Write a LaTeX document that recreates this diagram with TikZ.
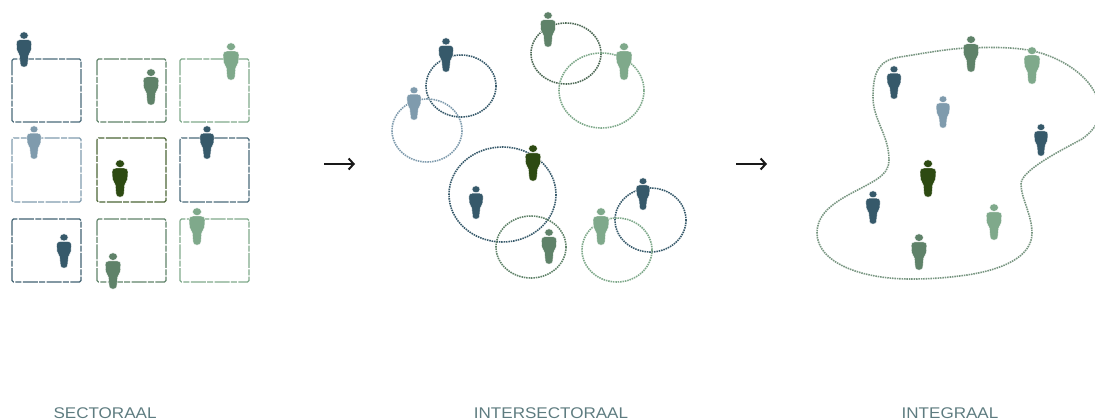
\documentclass[tikz,border=0pt]{standalone}
\usepackage{fontspec}
\setmainfont{Liberation Sans}
\usetikzlibrary{arrows.meta}
\definecolor{pblue}{HTML}{36596A}
\definecolor{pgreen}{HTML}{5F8269}
\definecolor{plight}{HTML}{7FA98B}
\definecolor{pgrey}{HTML}{7F9BAD}
\definecolor{pdark}{HTML}{2D4A12}
\definecolor{capcol}{HTML}{5E7C80}
\tikzset{
  person/.pic={
    \path[pic actions] (0,3.6) ellipse [x radius=4.4,y radius=3.8];
    \path[pic actions] (-4,7.8) -- (4,7.8) .. controls (7,7.8) and (7.8,9.5) .. (7.8,11.5)
      -- (7.4,18.5) .. controls (7.2,21.5) and (4.9,21.5) .. (4.6,24.5) -- (3.8,33.5)
      .. controls (3.7,37) and (-3.7,37) .. (-3.8,33.5) -- (-4.6,24.5)
      .. controls (-4.9,21.5) and (-7.2,21.5) .. (-7.4,18.5) -- (-7.8,11.5)
      .. controls (-7.8,9.5) and (-7,7.8) .. (-4,7.8) -- cycle;
  },
  frame/.style={draw=#1,line width=1.4pt,rounded corners=1.5pt,
    dash pattern=on 15pt off 1.4pt on 6pt off 1.4pt},
  ring/.style={draw=#1,line width=1.6pt,dash pattern=on 1.5pt off 0.9pt},
  caption/.style={text=capcol,font=\fontsize{15.5}{16}\selectfont,anchor=base,xscale=1.1,inner sep=0pt},
  go/.style={-{Straight Barb[length=5pt,width=11pt,line width=2pt]},line width=1.1pt,black!90},
}
\newcommand{\folk}[4]{%
  \pgfmathsetmacro{\folkscale}{(#3-#2)/36}%
  \pic[fill=#4,draw=white,line width=0.4pt,scale=\folkscale] at (#1,#2) {person};}
\begin{document}
\begin{tikzpicture}[x=1pt,y=-1pt]
\useasboundingbox (0,0) rectangle (1095,420);
\clip (0,0) rectangle (1095,420);
% sectoral frames
\draw[frame=pblue!90] (12,59) rectangle (81,122);
\draw[frame=pgreen] (97,59) rectangle (166,122);
\draw[frame=plight] (180,59) rectangle (249,122);
\draw[frame=pgrey] (12,138) rectangle (81,202);
\draw[frame=pdark!85] (97,138) rectangle (166,202);
\draw[frame=pblue!90] (180,138) rectangle (249,202);
\draw[frame=pblue!95] (12,219) rectangle (81,282);
\draw[frame=pgreen] (97,219) rectangle (166,282);
\draw[frame=plight] (180,219) rectangle (249,282);
% intersectoral rings
\draw[ring=pblue] (461,86) ellipse [x radius=35,y radius=31];
\draw[ring=pgrey] (427,130.5) ellipse [x radius=35,y radius=31.5];
\draw[ring=pgreen!80!black] (566,53.5) ellipse [x radius=35,y radius=30.5];
\draw[ring=plight] (601.5,90.5) ellipse [x radius=42.5,y radius=37.5];
\draw[ring=pblue] (502.5,194.5) ellipse [x radius=53.5,y radius=47.5];
\draw[ring=pgreen] (531,247) ellipse [x radius=35,y radius=31];
\draw[ring=pblue] (650.5,220) ellipse [x radius=35.5,y radius=32];
\draw[ring=plight] (617,250) ellipse [x radius=35,y radius=32];
% integral outline
\draw[ring=pgreen!85,line width=1.6pt] (967,48)
  .. controls (990,47) and (1015,47) .. (1033,51)
  .. controls (1060,57) and (1090,75) .. (1098,100)
  .. controls (1105,115) and (1095,130) .. (1082,139)
  .. controls (1062,150) and (1021,170) .. (1021,184)
  .. controls (1021,198) and (1032,215) .. (1032,233)
  .. controls (1032,258) and (1000,270) .. (967,275)
  .. controls (945,278) and (930,279) .. (910,279)
  .. controls (860,279) and (817,262) .. (817,233)
  .. controls (817,208) and (845,197) .. (867,185)
  .. controls (880,178) and (889,172) .. (889,160)
  .. controls (889,135) and (873,120) .. (873,97)
  .. controls (873,70) and (880,60) .. (900,57)
  .. controls (920,54) and (945,49) .. (967,48) -- cycle;
% people: sectoral
\folk{24}{32}{67}{pblue}
\folk{151}{69}{105}{pgreen}
\folk{231}{43}{80}{plight}
\folk{34}{126}{159}{pgrey}
\folk{120}{160}{197}{pdark}
\folk{207}{126}{159}{pblue}
\folk{64}{234}{268}{pblue}
\folk{113}{253}{289}{pgreen}
\folk{197}{208}{245}{plight}
% people: intersectoral
\folk{446}{38}{72}{pblue}
\folk{414}{87}{120}{pgrey}
\folk{548}{12}{47}{pgreen}
\folk{624}{43}{80}{plight}
\folk{533}{145}{181}{pdark}
\folk{476}{186}{219}{pblue}
\folk{549}{229}{264}{pgreen}
\folk{643}{178}{210}{pblue}
\folk{601}{208}{245}{plight}
% people: integral
\folk{894}{66}{99}{pblue}
\folk{971}{36}{72}{pgreen}
\folk{1032}{47}{84}{plight}
\folk{943}{96}{128}{pgrey}
\folk{1041}{124}{156}{pblue}
\folk{928}{160}{197}{pdark}
\folk{873}{191}{224}{pblue}
\folk{994}{204}{240}{plight}
\folk{919}{234}{270}{pgreen}
% arrows
\coordinate (a1s) at (324,164);
\coordinate (a1e) at (355,164);
\coordinate (a2s) at (736,164);
\coordinate (a2e) at (767,164);
\draw[go] (a1s) -- (a1e);
\draw[go] (a2s) -- (a2e);
% captions
\node[caption] (sect) at (105,418) {SECTORAAL};
\node[caption] (inter) at (551,418) {INTERSECTORAAL};
\node[caption] (integ) at (950,418) {INTEGRAAL};
\end{tikzpicture}
\end{document}
